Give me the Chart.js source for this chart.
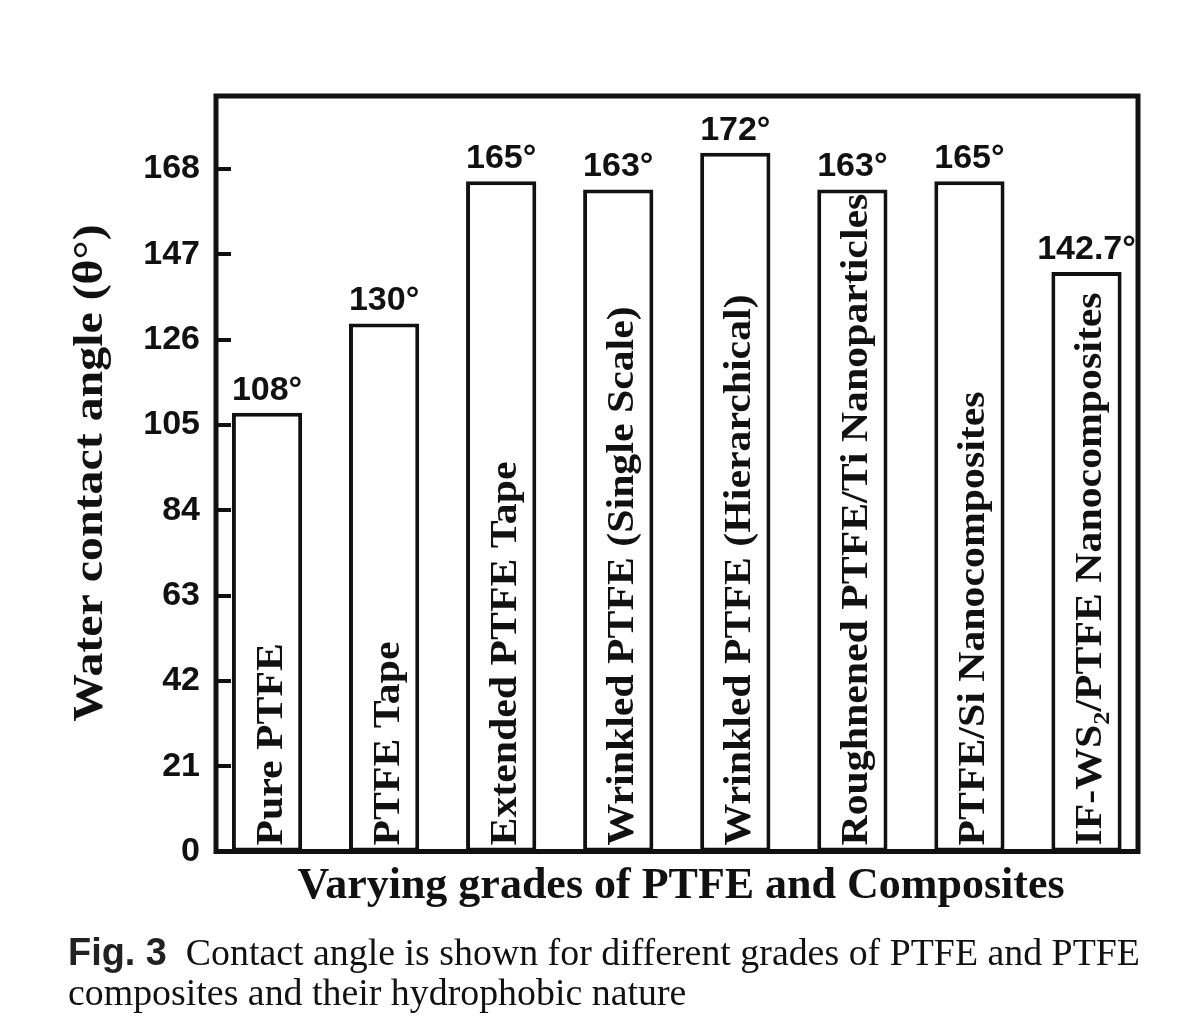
<!DOCTYPE html>
<html>
<head>
<meta charset="utf-8">
<script src="https://cdn.jsdelivr.net/npm/chart.js@4.4.1/dist/chart.umd.min.js"></script>
<style>
  html, body { margin: 0; padding: 0; background: #fff; }
  #wrap { position: relative; width: 1186px; height: 1032px; overflow: hidden; }
  #c { position: absolute; left: 0; top: 0; }
  .cap { position: absolute; left: 68px; font-family: "Liberation Serif", "Times New Roman", serif; font-size: 38px; color: #111; white-space: nowrap; transform-origin: 0 0; }
  .cap b { font-family: "Liberation Sans Narrow", "Liberation Sans", Arial, sans-serif; font-weight: bold; color: #222; }
</style>
</head>
<body>
<div id="wrap">
  <canvas id="c" width="1186" height="1032"></canvas>
  <div class="cap" id="cap1" style="top:930px;"><b>Fig. 3</b>&nbsp; Contact angle is shown for different grades of PTFE and PTFE</div>
  <div class="cap" id="cap2" style="top:970px;">composites and their hydrophobic nature</div>
</div>
<script>
// ---- data ----
const categories = [
  "Pure PTFE",
  "PTFE Tape",
  "Extended PTFE Tape",
  "Wrinkled PTFE (Single Scale)",
  "Wrinkled PTFE (Hierarchical)",
  "Roughnened PTFE/Ti Nanoparticles",
  "PTFE/Si Nanocomposites",
  "IF-WS\u2082/PTFE Nanocomposites"
];
const contactAngles = [108, 130, 165, 163, 172, 163, 165, 142.7];
const yTicks = [0, 21, 42, 63, 84, 105, 126, 147, 168];
const yAxisTitle = "Water contact angle (\u03b8\u00b0)";
const xAxisTitle = "Varying grades of PTFE and Composites";

// ---- drawing helpers ----
const SERIF = '"Liberation Serif", "Times New Roman", serif';
const SANS = '"Liberation Sans", Arial, sans-serif';

function drawRotatedText(ctx, text, x, y, size, stretch, align) {
  ctx.save();
  ctx.translate(x, y);
  ctx.rotate(-Math.PI / 2);
  ctx.scale(stretch, 1);
  ctx.textBaseline = 'alphabetic';
  ctx.textAlign = 'left';
  const mainFont = 'bold ' + size + 'px ' + SERIF;
  const subFont = 'bold ' + Math.round(size * 0.62) + 'px ' + SERIF;
  let total = 0;
  for (const ch of text) {
    if (ch === '\u2082') { ctx.font = subFont; total += ctx.measureText('2').width; }
    else { ctx.font = mainFont; total += ctx.measureText(ch).width; }
  }
  let pos = align === 'center' ? -total / 2 : 0;
  let run = '';
  const flush = () => {
    if (!run) return;
    ctx.font = mainFont;
    ctx.fillText(run, pos, 0);
    pos += ctx.measureText(run).width;
    run = '';
  };
  for (const ch of text) {
    if (ch === '\u2082') {
      flush();
      ctx.font = subFont;
      ctx.fillText('2', pos, size * 0.2);
      pos += ctx.measureText('2').width;
    } else {
      run += ch;
    }
  }
  flush();
  ctx.restore();
}

const decorPlugin = {
  id: 'decor',
  afterDatasetsDraw(chart) {
    const ctx = chart.ctx;
    const area = chart.chartArea;
    const yScale = chart.scales.y;
    const meta = chart.getDatasetMeta(0);
    ctx.save();
    ctx.fillStyle = '#111';
    ctx.strokeStyle = '#111';

    // inward ticks on y axis
    ctx.lineWidth = 4;
    yTicks.forEach(v => {
      const py = Math.round(yScale.getPixelForValue(v));
      ctx.beginPath();
      ctx.moveTo(area.left, py);
      ctx.lineTo(area.left + 15, py);
      ctx.stroke();
    });

    // bar inner labels + value labels
    meta.data.forEach((bar, i) => {
      drawRotatedText(ctx, categories[i], bar.x + 15, area.bottom - 6, 38, 1.1, 'left');
      ctx.font = 'bold 34px ' + SANS;
      ctx.textAlign = 'center';
      ctx.textBaseline = 'alphabetic';
      ctx.fillText(contactAngles[i] + '\u00b0', bar.x, bar.y - 13);
    });

    // frame
    ctx.lineWidth = 5;
    ctx.strokeRect(area.left, area.top, area.right - area.left, area.bottom - area.top);

    // axis titles
    ctx.font = 'bold 44px ' + SERIF;
    ctx.textAlign = 'center';
    ctx.textBaseline = 'alphabetic';
    ctx.fillText(xAxisTitle, (area.left + area.right) / 2 + 4, 898);
    drawRotatedText(ctx, yAxisTitle, 102, (area.top + area.bottom) / 2 - 2, 42, 1.14, 'center');
    ctx.restore();
  }
};

new Chart(document.getElementById('c'), {
  type: 'bar',
  data: {
    datasets: [{
      data: contactAngles.map((v, i) => ({ x: i, y: v })),
      backgroundColor: '#ffffff',
      borderColor: '#111111',
      borderWidth: 4,
      borderSkipped: false,
      barPercentage: 0.6,
      categoryPercentage: 1.0
    }]
  },
  options: {
    responsive: false,
    animation: false,
    devicePixelRatio: 1,
    layout: { padding: { top: 96, right: 48, left: 0, bottom: 0 } },
    plugins: { legend: { display: false }, tooltip: { enabled: false }, title: { display: false } },
    scales: {
      x: {
        type: 'linear',
        offset: false,
        min: -0.436,
        max: 7.44,
        grid: { display: false, drawTicks: false, offset: false },
        border: { display: false },
        afterBuildTicks(scale) { scale.ticks = categories.map((c, i) => ({ value: i })); },
        ticks: { display: false },
        afterFit(scale) { scale.height = 180.5; }
      },
      y: {
        min: 0,
        max: 186,
        grid: { display: false, drawTicks: false },
        border: { display: false },
        afterBuildTicks(scale) { scale.ticks = yTicks.map(v => ({ value: v })); },
        ticks: {
          padding: 16,
          color: '#111',
          font: { family: SANS, size: 34, weight: 'bold' },
          callback: v => String(v)
        },
        afterFit(scale) { scale.width = 216; }
      }
    }
  },
  plugins: [decorPlugin]
});

// caption fitting (condensed look, first line spans the full width)
(function () {
  const c1 = document.getElementById('cap1');
  const w1 = c1.getBoundingClientRect().width;
  const s = 1072 / w1;
  c1.style.transform = 'scaleX(' + s + ')';
  document.getElementById('cap2').style.transform = 'scaleX(' + s + ')';
})();
</script>
</body>
</html>
